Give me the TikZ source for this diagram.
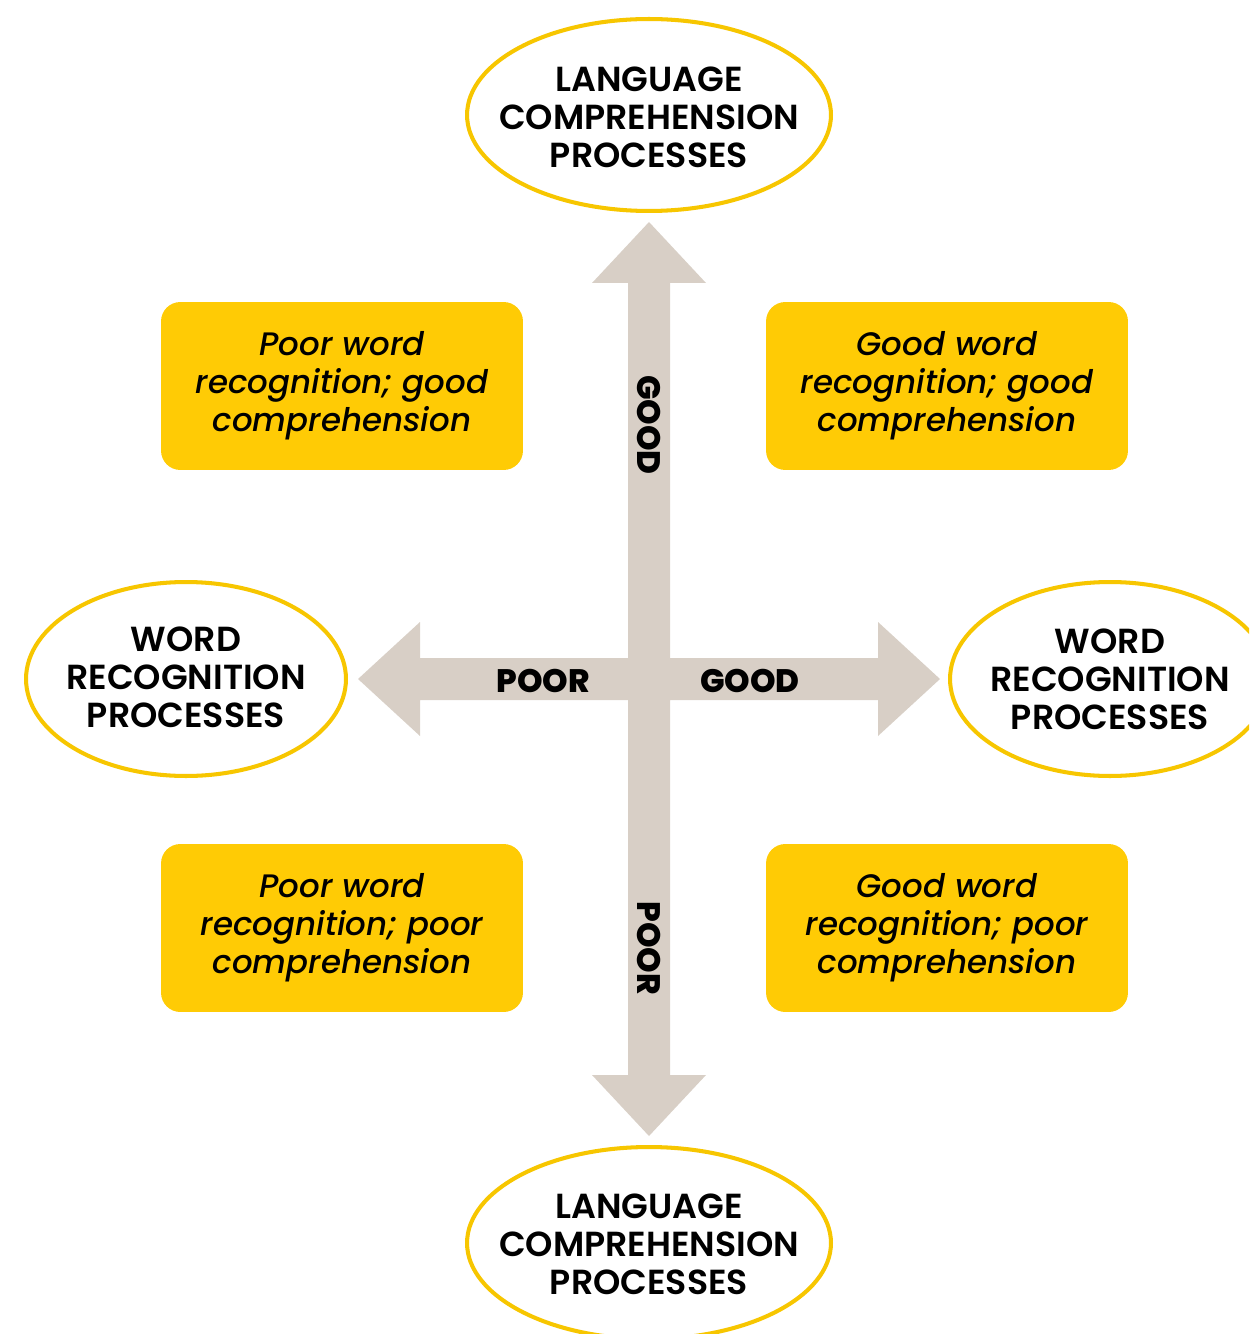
\documentclass[tikz,border=0pt]{standalone}
\usepackage{fontspec}
\setmainfont{Poppins}[BoldFont={Poppins SemiBold}, ItalicFont={Poppins Medium Italic}]
\newfontfamily\heavyfont{Poppins ExtraBold}
\usetikzlibrary{shapes.geometric}
\definecolor{ygold}{HTML}{FFCB05}
\definecolor{yline}{HTML}{F7C600}
\definecolor{taupe}{HTML}{D8CFC6}
\begin{document}
\begin{tikzpicture}[x=0.02cm,y=-0.02cm,
  ellline/.style={draw=yline, line width=2.3pt, fill=white},
  proctext/.style={inner sep=0pt, align=center,
    font=\fontsize{19.8}{21.6}\selectfont\bfseries},
  quadbox/.style={rectangle, rounded corners=11pt, fill=ygold, inner sep=0pt,
    minimum width=7.24cm, minimum height=3.36cm, align=center,
    font=\fontsize{18.5}{21.6}\selectfont\itshape},
  axislabel/.style={inner sep=0pt, font=\fontsize{18.5}{20}\selectfont\heavyfont}]
\useasboundingbox (0,0) rectangle (1249,1334);
\clip (0,0) rectangle (1249,1334);

% cross of arrows
\fill[taupe] (628,283) -- (592,283) -- (649,222) -- (706,283) -- (670,283)
  -- (670,658) -- (878,658) -- (878,622) -- (940,679) -- (878,736) -- (878,700)
  -- (670,700) -- (670,1075) -- (706,1075) -- (649,1136) -- (592,1075) -- (628,1075)
  -- (628,700) -- (420,700) -- (420,736) -- (358,679) -- (420,622) -- (420,658)
  -- (628,658) -- cycle;

% axis labels
\node[axislabel, rotate=-90] (vgood) at (649,425) {GOOD};
\node[axislabel, rotate=-90] (vpoor) at (649,948) {POOR};
\node[axislabel] (hpoor) at (543,681) {POOR};
\node[axislabel] (hgood) at (750,681) {GOOD};

% ellipses
\draw[ellline] (649,115) ellipse [x radius=3.64cm, y radius=1.92cm];
\draw[ellline] (649,1243) ellipse [x radius=3.64cm, y radius=1.92cm];
\draw[ellline] (186,679) ellipse [x radius=3.2cm, y radius=1.94cm];
\draw[ellline] (1110,679) ellipse [x radius=3.2cm, y radius=1.94cm];
\node[proctext] (top) at (649,117) {LANGUAGE\\COMPREHENSION\\PROCESSES};
\node[proctext] (bottom) at (649,1244) {LANGUAGE\\COMPREHENSION\\PROCESSES};
\node[proctext] (left) at (186,677) {WORD\\RECOGNITION\\PROCESSES};
\node[proctext] (right) at (1110,679) {WORD\\RECOGNITION\\PROCESSES};

% quadrant boxes
\node[quadbox] (tl) at (342,386) {Poor word\\recognition; good\\comprehension};
\node[quadbox] (tr) at (947,386) {Good word\\recognition; good\\comprehension};
\node[quadbox] (bl) at (342,928) {Poor word\\recognition; poor\\comprehension};
\node[quadbox] (br) at (947,928) {Good word\\recognition; poor\\comprehension};
\end{tikzpicture}
\end{document}
